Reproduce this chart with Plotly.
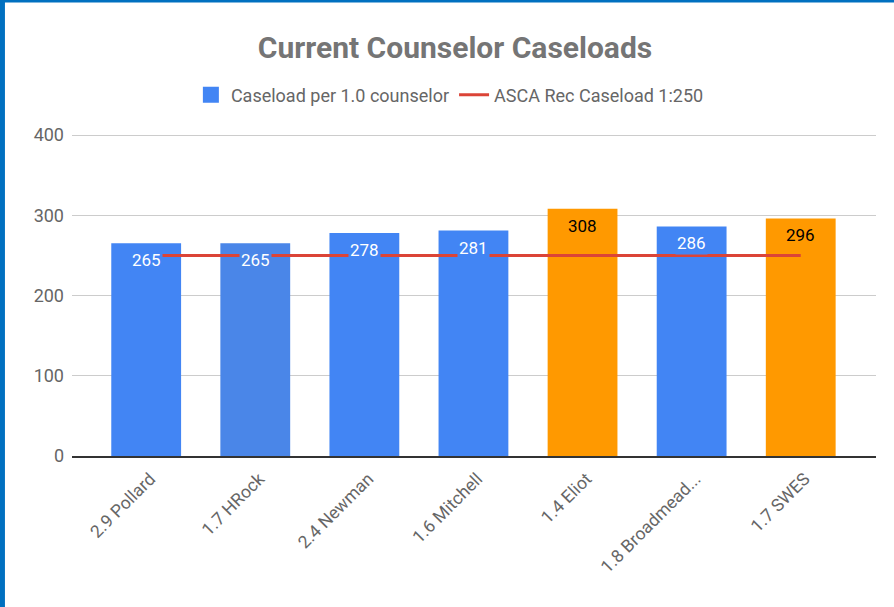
import plotly.graph_objects as go

# Chart data
schools = ['2.9 Pollard', '1.7 HRock', '2.4 Newman', '1.6 Mitchell',
           '1.4 Eliot', '1.8 Broadmead...', '1.7 SWES']
caseload = [265, 265, 278, 281, 308, 286, 296]
asca_rec = [250, 250, 250, 250, 250, 250, 250]
bar_colours = ['#4285F4', '#4A86E8', '#4285F4', '#4285F4',
               '#FF9900', '#4285F4', '#FF9900']
label_colours = ['white', 'white', 'white', 'white',
                 'black', 'white', 'black']
y_ticks = [0, 100, 200, 300, 400]

FONT = 'Roboto, Arial, sans-serif'

fig = go.Figure()

# Bars (legend entry is drawn by a separate square marker below)
fig.add_trace(go.Bar(
    x=schools,
    y=caseload,
    marker=dict(color=bar_colours, line_width=0),
    width=0.64,
    name='Caseload per 1.0 counselor',
    showlegend=False))

# Legend-only entry so the swatch is a large square like the original
fig.add_trace(go.Scatter(
    x=[None], y=[None],
    mode='markers',
    marker=dict(symbol='square', size=16, color='#4285F4'),
    name='Caseload per 1.0 counselor'))

# Recommended caseload line
fig.add_trace(go.Scatter(
    x=schools,
    y=asca_rec,
    mode='lines',
    line=dict(color='#DB4437', width=3),
    name='ASCA Rec Caseload 1:250'))

# Value labels drawn on top of the line, boxed in the bar colour
for s, v, bc, lc in zip(schools, caseload, bar_colours, label_colours):
    fig.add_annotation(
        x=s, y=v, text=str(v), showarrow=False,
        yanchor='top', yshift=-5,
        font=dict(family=FONT, size=17, color=lc),
        bgcolor=bc, borderpad=1)

# Blue frame on the left and top edges
fig.add_shape(type='rect', xref='paper', yref='paper',
              x0=-0.1, x1=-0.0834, y0=-0.5, y1=1.6,
              fillcolor='#0070C0', line_width=0, layer='above')
fig.add_shape(type='rect', xref='paper', yref='paper',
              x0=-0.1, x1=1.1, y0=1.3954, y1=1.6,
              fillcolor='#0070C0', line_width=0, layer='above')

fig.update_layout(
    width=894, height=607,
    margin=dict(l=72, r=18, t=131, b=151),
    paper_bgcolor='white', plot_bgcolor='white',
    font=dict(family=FONT, color='#666666'),
    title=dict(text='<b>Current Counselor Caseloads</b>',
               x=0.509, xanchor='center', y=0.922, yanchor='middle',
               font=dict(family=FONT, size=30, color='#757575')),
    legend=dict(orientation='h', x=0.47, xanchor='center',
                y=1.1108, yanchor='middle',
                font=dict(family=FONT, size=18, color='#666666'),
                itemwidth=30, itemsizing='trace'),
    showlegend=True,
    bargap=0.36)

fig.update_xaxes(
    range=[-0.68, 6.69],
    tickangle=-45,
    tickfont=dict(family=FONT, size=17.5, color='#666666'),
    showgrid=False,
    showline=True, linecolor='#333333', linewidth=1.5,
    ticks='', ticklabelstandoff=4, ticklabelshift=4)

fig.update_yaxes(
    range=[0, 405],
    tickvals=y_ticks,
    tickfont=dict(family=FONT, size=18, color='#666666'),
    gridcolor='#CCCCCC', gridwidth=1,
    zeroline=False,
    ticks='', ticklabelstandoff=7)

fig.write_html('out.html', config={'displayModeBar': False},
               post_script="document.body.style.margin='0';")
